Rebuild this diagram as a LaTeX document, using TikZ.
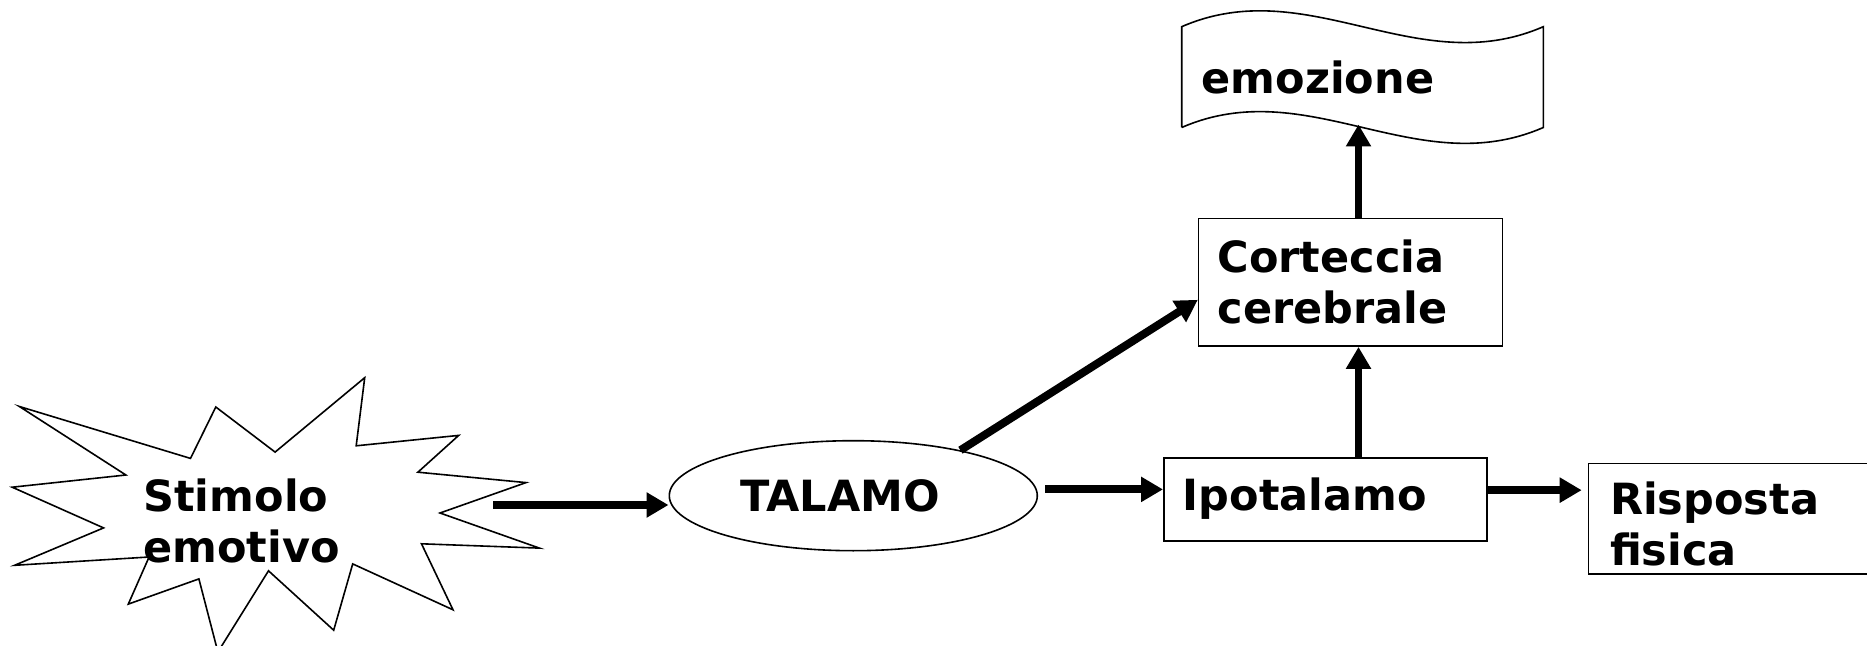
\documentclass[tikz,border=0pt]{standalone}
\usepackage{fontspec}
\setmainfont{DejaVu Sans}
\usetikzlibrary{arrows.meta,calc,shapes.geometric}

\begin{document}
\begin{tikzpicture}[x=0.5pt,y=-0.5pt,
    font=\bfseries\fontsize{21.5pt}{25.5pt}\selectfont,
    box/.style={rectangle, draw, line width=0.8pt, anchor=north west, align=left, inner ysep=0pt},
    flow/.style={line width=4pt, -{Triangle[length=11pt,width=12pt]}},
    upflow/.style={line width=3.5pt, -{Triangle[length=11pt,width=12pt]}}]
    \clip (0,0) rectangle (1867,646);
    \draw[line width=0.8pt] (19.4,406.5) -- (125.9,475) -- (12.2,487.2) -- (103.6,527.9) -- (14.6,565.3)
        -- (149.1,557) -- (128.3,604.1) -- (198.9,578.9) -- (217.9,652) -- (268.5,570.8)
        -- (333.7,630.2) -- (352.7,563.9) -- (453,609.8) -- (421.5,543.8) -- (539.4,548.1)
        -- (440,513) -- (526,482.6) -- (417.9,472.2) -- (458.7,435.4) -- (356.2,445.8)
        -- (364.7,377.7) -- (275.1,452.1) -- (215.8,407) -- (190.5,458.4) -- cycle;
    \node[anchor=base west, align=left, inner sep=0pt] (stim) at (143,562) {Stimolo\\emotivo};
    \coordinate (stimout) at (493,505);
    \node[ellipse, draw, line width=0.8pt, minimum width=184pt, minimum height=55pt, inner sep=0pt] (tal) at (853.3,495.7) {TALAMO\hspace*{13pt}};
    \node[box, inner xsep=9.5pt, text width=142.5pt, text height=26.15pt, text depth=15.2pt] (ipo) at (1163,457.3) {Ipotalamo};
    \node[box, inner xsep=9.5pt, text width=132.85pt, text height=26.8pt, text depth=36.9pt] (cort) at (1197.8,217.9) {Corteccia\\cerebrale};
    \node[box, inner xsep=10.8pt, text width=128.4pt, text height=25.65pt, text depth=29.65pt] (ris) at (1587.7,462.7) {Risposta\\fisica};
    \node[box, draw=none, outer sep=0pt, inner xsep=10pt, text width=160.8pt, text height=33.65pt, text depth=16.75pt] (emo) at (1181.7,26.7) {emozione};
    \draw[line width=0.8pt] (emo.south west) -- (emo.north west)
        .. controls ($(emo.north west)!0.35!(emo.north east)+(0,-55)$) and ($(emo.north west)!0.65!(emo.north east)+(0,55)$) .. (emo.north east)
        -- (emo.south east)
        .. controls ($(emo.south west)!0.65!(emo.south east)+(0,55)$) and ($(emo.south west)!0.35!(emo.south east)+(0,-55)$) .. (emo.south west);
    \coordinate (col) at ($(emo.south)+(-4,-3)$);
    \draw[flow] (stimout) -- (stimout -| tal.west);
    \draw[flow] ($(tal.east)+(7,-6.3)$) -- ($(tal.east -| ipo.west)+(0,-6.3)$);
    \draw[flow] ($(ipo.east)+(0,-9.3)$) -- ($(ipo.east -| ris.west)+(-6,-9.3)$);
    \draw[flow] (tal.23) -- ($(cort.west)+(0,17.4)$);
    \draw[upflow] (ipo.north -| col) -- (cort.south -| col);
    \draw[upflow] (cort.north -| col) -- (col);
\end{tikzpicture}
\end{document}
